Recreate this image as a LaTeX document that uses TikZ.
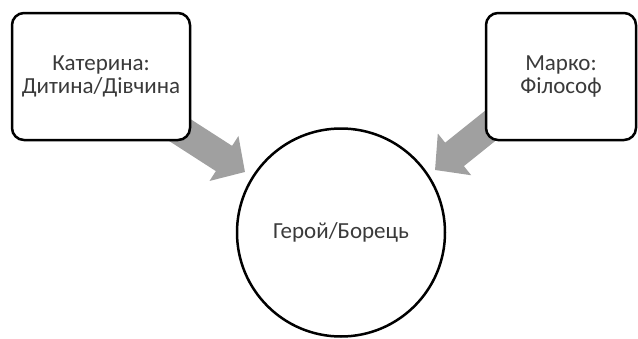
\documentclass[tikz,border=0pt]{standalone}
\usepackage{fontspec}
\setmainfont{Carlito}
\usetikzlibrary{arrows.meta}
\definecolor{arrowgray}{HTML}{A0A0A0}
\definecolor{txt}{HTML}{3A3A3A}
\tikzset{
  labelbox/.style={draw=black, line width=2.5pt, rounded corners=12pt, fill=white,
    text=txt, align=center, font=\fontsize{23}{23}\selectfont, inner sep=0pt},
  bigcircle/.style={draw=black, line width=2.5pt, circle, fill=white, text=txt,
    font=\fontsize{23}{23}\selectfont, inner sep=0pt, minimum size=208pt},
  blockarrow/.style={draw=arrowgray, line width=30pt,
    -{Triangle[length=25pt,width=52pt]}}
}
\begin{document}
\begin{tikzpicture}[x=1pt,y=-1pt]
\useasboundingbox (0,0) rectangle (638,338);
% arrow coordinates
\coordinate (ls) at (144.1,107.1);
\coordinate (lt) at (245,172);
\coordinate (rs) at (528.7,95);
\coordinate (rt) at (435,170);
\draw[blockarrow] (ls) -- (lt);
\draw[blockarrow] (rs) -- (rt);
% boxes
\node[labelbox, minimum width=178pt, minimum height=127pt] (kat) at (101,76.5)
  {Катерина:\\Дитина/Дівчина};
\node[labelbox, minimum width=150pt, minimum height=127pt] (mar) at (561,76.5)
  {Марко:\\Філософ};
\node[bigcircle] (hero) at (341,232.5) {Герой/Борець};
\end{tikzpicture}
\end{document}
